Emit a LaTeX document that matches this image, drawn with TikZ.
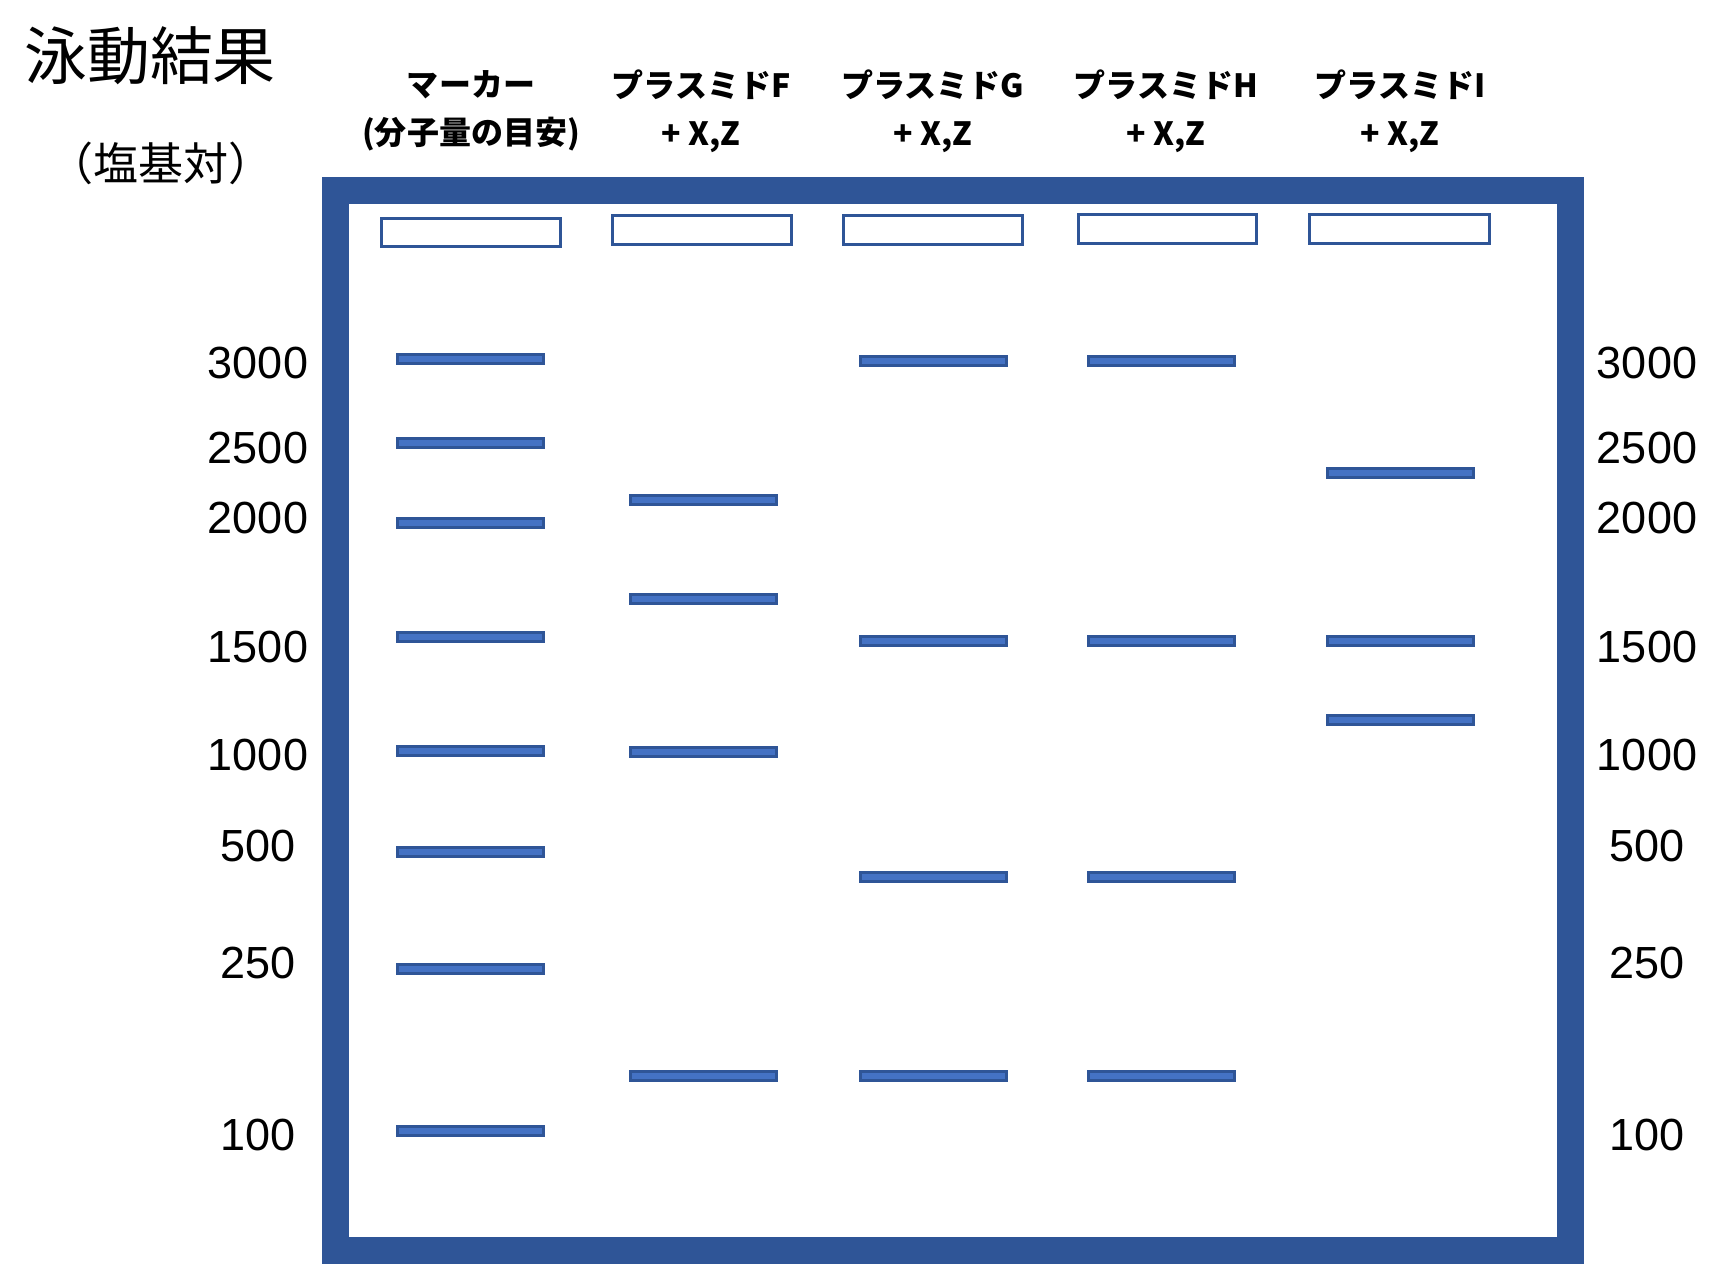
\documentclass[tikz,border=0pt]{standalone}
\usepackage{fontspec}
\setmainfont{Liberation Sans}
\newfontfamily\jpfont{Noto Sans CJK JP}
\definecolor{gelblue}{HTML}{2F5597}
\definecolor{bandblue}{HTML}{4472C4}

\begin{document}
\begin{tikzpicture}[x=0.01cm,y=-0.01cm,
    gelframe/.style={draw=gelblue,line width=0.27cm},
    well/.style={draw=gelblue,line width=0.03cm},
    band/.style={draw=gelblue,fill=bandblue,line width=0.03cm},
    bplabel/.style={font=\fontsize{12.8}{15}\selectfont,inner sep=0pt},
    lanehead/.style={font=\jpfont\bfseries\fontsize{9.1}{13.7}\selectfont,align=center,inner sep=0pt}]
            \useasboundingbox (0,0) rectangle (1718,1284);
            % titles
            \node[font=\jpfont\fontsize{17.9}{20}\selectfont,inner sep=0pt] (title) at (150,56) {泳動結果};
            \node[font=\jpfont\fontsize{12.8}{15}\selectfont,inner sep=0pt] (unit) at (161,163) {（塩基対）};
            \node[lanehead] (hdM) at (471,111) {マーカー\\(分子量の目安)};
            \node[lanehead] (hdF) at (701,111) {プラスミドF\\+ X,Z};
            \node[lanehead] (hdG) at (933,111) {プラスミドG\\+ X,Z};
            \node[lanehead] (hdH) at (1166,111) {プラスミドH\\+ X,Z};
            \node[lanehead] (hdI) at (1400,111) {プラスミドI\\+ X,Z};
            % gel
            \draw[gelframe] (335.5,190) rectangle (1570,1250);
            \draw[well] (381.5,218.5) rectangle (560.5,246.5);
            \draw[well] (612.5,215.5) rectangle (791.5,244.5);
            \draw[well] (843.5,215.5) rectangle (1022.5,244.5);
            \draw[well] (1078.5,214.5) rectangle (1256.5,243.5);
            \draw[well] (1309.5,214.5) rectangle (1489.5,243.5);
            % marker lane
            \draw[band] (397,354) rectangle (543,363);
            \draw[band] (397,438) rectangle (543,447);
            \draw[band] (397,518) rectangle (543,527);
            \draw[band] (397,632) rectangle (543,641);
            \draw[band] (397,746) rectangle (543,755);
            \draw[band] (397,847) rectangle (543,856);
            \draw[band] (397,964) rectangle (543,973);
            \draw[band] (397,1126) rectangle (543,1135);
            % plasmid F
            \draw[band] (630,495) rectangle (776,504);
            \draw[band] (630,594) rectangle (776,603);
            \draw[band] (630,747) rectangle (776,756);
            \draw[band] (630,1071) rectangle (776,1080);
            % plasmid G
            \draw[band] (860,356) rectangle (1006,365);
            \draw[band] (860,636) rectangle (1006,645);
            \draw[band] (860,872) rectangle (1006,881);
            \draw[band] (860,1071) rectangle (1006,1080);
            % plasmid H
            \draw[band] (1088,356) rectangle (1234,365);
            \draw[band] (1088,636) rectangle (1234,645);
            \draw[band] (1088,872) rectangle (1234,881);
            \draw[band] (1088,1071) rectangle (1234,1080);
            % plasmid I
            \draw[band] (1327,468) rectangle (1473,477);
            \draw[band] (1327,636) rectangle (1473,645);
            \draw[band] (1327,715) rectangle (1473,724);
            % size labels
            \node[bplabel] (l3000) at (258,363) {3000};
            \node[bplabel] (l2500) at (258,448) {2500};
            \node[bplabel] (l2000) at (258,518) {2000};
            \node[bplabel] (l1500) at (258,647) {1500};
            \node[bplabel] (l1000) at (258,755) {1000};
            \node[bplabel] (l500) at (258,846) {500};
            \node[bplabel] (l250) at (258,963) {250};
            \node[bplabel] (l100) at (258,1135) {100};
            \node[bplabel] (r3000) at (1647,363) {3000};
            \node[bplabel] (r2500) at (1647,448) {2500};
            \node[bplabel] (r2000) at (1647,518) {2000};
            \node[bplabel] (r1500) at (1647,647) {1500};
            \node[bplabel] (r1000) at (1647,755) {1000};
            \node[bplabel] (r500) at (1647,846) {500};
            \node[bplabel] (r250) at (1647,963) {250};
            \node[bplabel] (r100) at (1647,1135) {100};
        \end{tikzpicture}
\end{document}
